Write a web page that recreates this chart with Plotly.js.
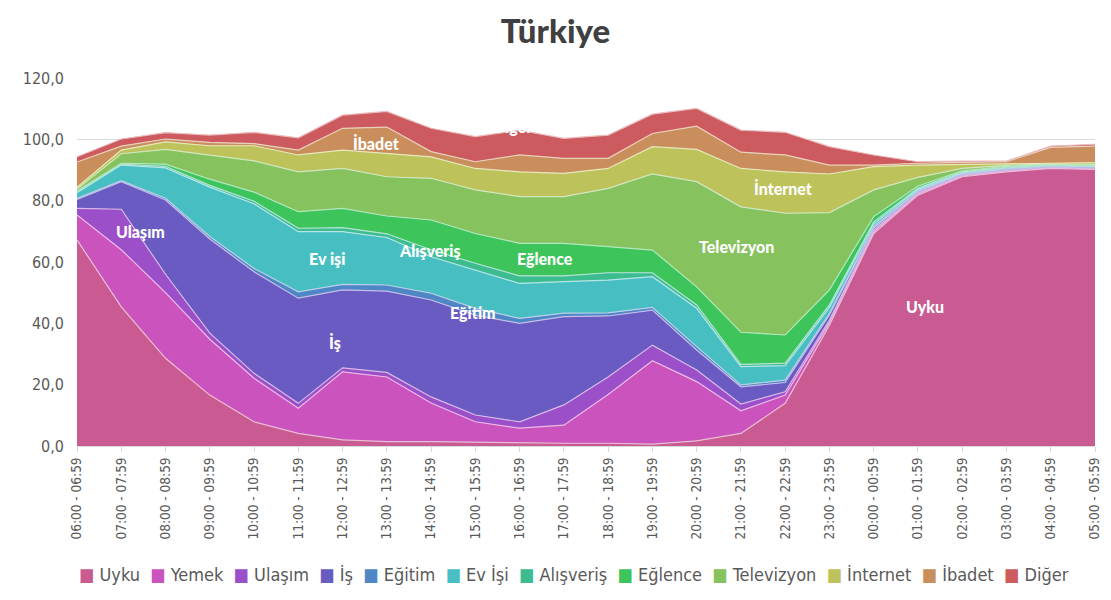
<!DOCTYPE html>
<html>
<head>
<meta charset="utf-8">
<script src="https://cdn.plot.ly/plotly-3.0.1.min.js"></script>
<style>
  html, body { margin: 0; padding: 0; background: #fff; }
  #chart { width: 1111px; height: 600px; }
</style>
</head>
<body>
<div id="chart"></div>
<script>
/* Türkiye - günün saatlerine göre zaman kullanımı (yığılmış alan) */

var saatler = ['06:00 - 06:59', '07:00 - 07:59', '08:00 - 08:59', '09:00 - 09:59',
	'10:00 - 10:59', '11:00 - 11:59', '12:00 - 12:59', '13:00 - 13:59',
	'14:00 - 14:59', '15:00 - 15:59', '16:00 - 16:59', '17:00 - 17:59',
	'18:00 - 18:59', '19:00 - 19:59', '20:00 - 20:59', '21:00 - 21:59',
	'22:00 - 22:59', '23:00 - 23:59', '00:00 - 00:59', '01:00 - 01:59',
	'02:00 - 02:59', '03:00 - 03:59', '04:00 - 04:59', '05:00 - 05:59'];

var uyku       = [67.2, 45.4, 28.6, 16.6, 7.9, 4.1, 2.0, 1.4, 1.4, 1.2, 0.9, 0.9, 0.9, 0.6, 1.7, 4.1, 13.9, 39.4, 69.3, 81.8, 87.8, 89.4, 90.5, 90.2];
var yemek      = [8.1, 18.6, 21.4, 18.2, 14.2, 8.2, 22.2, 21.1, 12.6, 6.7, 4.9, 5.9, 15.9, 27.2, 19.3, 7.4, 2.7, 0.9, 0.6, 0.4, 0.3, 0.3, 0.2, 0.2];
var ulasim     = [2.2, 13.2, 6.0, 2.0, 1.6, 1.6, 1.3, 1.5, 2.0, 2.2, 2.1, 6.6, 5.7, 5.1, 3.8, 2.2, 1.1, 0.8, 0.5, 0.3, 0.2, 0.2, 0.2, 0.2];
var is         = [2.9, 9.0, 24.2, 30.7, 33.1, 34.3, 25.4, 26.5, 31.6, 32.6, 32.1, 28.8, 19.9, 11.4, 6.5, 5.6, 3.0, 1.6, 0.6, 0.4, 0.3, 0.3, 0.2, 0.3];
var egitim     = [0.3, 0.3, 0.6, 0.8, 1.1, 2.1, 1.8, 2.0, 2.2, 2.2, 1.6, 1.1, 1.0, 0.9, 1.1, 0.6, 0.8, 0.6, 0.5, 0.3, 0.2, 0.2, 0.2, 0.1];
var evIsi      = [1.9, 5.1, 9.9, 16.1, 21.1, 19.6, 17.2, 15.5, 11.9, 12.5, 11.4, 10.3, 10.7, 10.0, 12.5, 6.0, 4.7, 1.9, 0.9, 0.5, 0.3, 0.3, 0.2, 0.2];
var alisveris  = [0.3, 0.3, 0.5, 0.6, 0.8, 1.1, 1.3, 1.2, 2.3, 2.2, 2.5, 1.9, 2.4, 1.3, 1.1, 0.7, 0.8, 0.8, 0.7, 0.4, 0.3, 0.2, 0.1, 0.1];
var eglence    = [0.3, 0.3, 0.7, 2.0, 3.0, 5.4, 6.3, 5.8, 9.7, 9.7, 10.6, 10.6, 8.5, 7.4, 5.9, 10.5, 9.2, 4.9, 1.7, 0.7, 0.3, 0.3, 0.2, 0.2];
var televizyon = [0.6, 3.1, 4.8, 7.8, 10.2, 13.0, 13.0, 12.8, 13.6, 14.2, 15.2, 15.2, 19.0, 24.8, 34.3, 40.9, 39.7, 25.2, 8.7, 2.8, 0.8, 0.3, 0.2, 0.3];
var internet   = [0.6, 1.2, 2.5, 3.1, 4.9, 5.5, 6.0, 7.7, 7.0, 7.0, 8.1, 7.6, 6.5, 8.9, 10.5, 12.5, 13.5, 12.6, 7.6, 4.0, 1.3, 0.7, 0.3, 0.6];
var ibadet     = [8.2, 1.3, 0.9, 1.1, 0.7, 1.6, 7.1, 8.5, 1.7, 2.2, 5.5, 4.9, 3.3, 4.3, 7.6, 5.3, 5.5, 2.9, 0.5, 0.6, 0.7, 0.5, 5.1, 5.4];
var diger      = [1.7, 2.3, 2.1, 2.4, 3.7, 4.0, 4.3, 5.1, 7.6, 8.2, 8.1, 6.5, 7.6, 6.3, 5.8, 7.2, 7.4, 6.0, 3.3, 0.5, 0.4, 0.2, 0.4, 0.6];

var seriAdlari = ['Uyku', 'Yemek', 'Ulaşım', 'İş', 'Eğitim', 'Ev İşi', 'Alışveriş',
	'Eğlence', 'Televizyon', 'İnternet', 'İbadet', 'Diğer'];
var seriler = [uyku, yemek, ulasim, is, egitim, evIsi, alisveris, eglence,
	televizyon, internet, ibadet, diger];
var renkler = ['#C95B92', '#CB53BD', '#9B4FC8', '#6A5BC2', '#4F86C6', '#47BFC2',
	'#3DBC90', '#3DC45B', '#86C25E', '#BDC25A', '#C98E5B', '#CC5A5E'];

// alanların içindeki etiketler
var etiketler = ['Ulaşım', 'Ev işi', 'İş', 'İbadet', 'Diğer', 'Alışveriş', 'Eğlence',
	'Eğitim', 'Televizyon', 'İnternet', 'Uyku'];
var etiketX = [1.43, 5.65, 5.83, 6.76, 9.85, 7.98, 10.57, 8.95, 14.91, 15.95, 19.16];
var etiketY = [70.1, 61.3, 33.9, 98.8, 104.2, 63.9, 61.0, 43.4, 64.9, 84.1, 45.6];

function acik(hex, t) {
	var r = parseInt(hex.substr(1, 2), 16);
	var g = parseInt(hex.substr(3, 2), 16);
	var b = parseInt(hex.substr(5, 2), 16);
	r = Math.round(r + (255 - r) * t);
	g = Math.round(g + (255 - g) * t);
	b = Math.round(b + (255 - b) * t);
	return 'rgb(' + r + ',' + g + ',' + b + ')';
}

var yazi = '"Liberation Sans Narrow", "DejaVu Sans Condensed", "Arial Narrow", sans-serif';
var kalin = 'Lato, Roboto, "DejaVu Sans", sans-serif';

function drawChart() {
	var data = [];
	for (var i = 0; i < seriler.length; i++) {
		data.push({
			x: saatler,
			y: seriler[i],
			name: seriAdlari[i],
			type: 'scatter',
			mode: 'lines',
			stackgroup: 'one',
			fillcolor: renkler[i],
			line: { color: acik(renkler[i], 0.6), width: 1.2, shape: 'linear' },
			hoverinfo: 'name+y'
		});
	}

	var notlar = [];
	for (var k = 0; k < etiketler.length; k++) {
		notlar.push({
			x: etiketX[k],
			y: etiketY[k],
			xref: 'x',
			yref: 'y',
			text: etiketler[k],
			showarrow: false,
			font: { family: kalin, size: 16, weight: 900, color: '#ffffff' }
		});
	}

	// tek satırlık açıklama (legend)
	var parcalar = [];
	for (var j = 0; j < seriAdlari.length; j++) {
		parcalar.push('<span style="color:' + renkler[j] + '">■</span> ' + seriAdlari[j]);
	}
	notlar.push({
		x: 0.488,
		y: -0.35,
		xref: 'paper',
		yref: 'paper',
		xanchor: 'center',
		yanchor: 'middle',
		text: parcalar.join('  '),
		showarrow: false,
		font: { family: yazi, size: 18, color: '#595959' }
	});

	var layout = {
		width: 1111,
		height: 600,
		margin: { l: 77, r: 16, t: 78, b: 154 },
		paper_bgcolor: '#ffffff',
		plot_bgcolor: '#ffffff',
		separators: ',.',
		showlegend: false,
		title: {
			text: 'Türkiye',
			x: 0.5,
			xanchor: 'center',
			y: 0.947,
			yanchor: 'middle',
			font: { family: kalin, size: 33, weight: 900, color: '#404040' }
		},
		xaxis: {
			type: 'category',
			range: [0, 23],
			automargin: false,
			showgrid: false,
			showline: true,
			linecolor: '#d9d9d9',
			linewidth: 1,
			ticks: 'outside',
			ticklen: 5,
			tickcolor: '#d9d9d9',
			tickangle: -90,
			tickfont: { family: yazi, size: 13.5, color: '#595959' },
			fixedrange: true
		},
		yaxis: {
			range: [0, 120],
			dtick: 20,
			tickformat: '.1f',
			automargin: false,
			showgrid: true,
			gridcolor: '#d9d9d9',
			gridwidth: 1,
			zeroline: false,
			showline: false,
			ticks: '',
			ticklabelstandoff: 12,
			tickfont: { family: yazi, size: 16, color: '#595959' },
			fixedrange: true
		},
		annotations: notlar
	};

	Plotly.newPlot('chart', data, layout, { displayModeBar: false, staticPlot: true });
}

window.onload = drawChart;
</script>
</body>
</html>
